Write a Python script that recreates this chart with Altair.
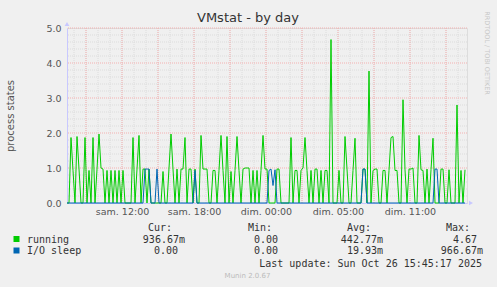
import altair as alt
import pandas as pd

# ---- data (one sample every 10 minutes, 200 samples) ----
running = [
    0, 0, 1.87, 0.93, 0, 1.9, 0.97, 0, 0, 1.87,
    0, 0.93, 0, 1.87, 0, 0.97, 1.97, 1.0, 0.97, 0,
    0.93, 0, 0.93, 0, 0.93, 0, 0.93, 0, 0.93, 0,
    0, 0, 0, 1.87, 0, 0.97, 1.93, 0, 0.97, 0.97,
    0, 0.97, 0, 0, 0, 0, 0, 0, 0.9, 0,
    0, 1.0, 1.97, 0.97, 0, 0.97, 0, 0.97, 0.97, 1.87,
    0, 0.97, 0.97, 0, 0.97, 0, 0, 1.93, 0.97, 0.97,
    0.97, 0, 0, 0.93, 0.93, 0, 0.93, 1.93, 0.93, 0,
    1.9, 0, 0.9, 0, 0.93, 1.9, 0.93, 0, 0.97, 1.0,
    1.0, 1.0, 0, 0.93, 0, 0.93, 0, 0.93, 1.93, 0.97,
    0.97, 0, 0, 0, 0, 0.97, 0.97, 0, 0, 0,
    0, 0, 1.87, 0, 0.93, 0.93, 0, 0.93, 1.0, 1.87,
    0.93, 0, 0.93, 0, 0.97, 0.97, 0, 0.93, 0, 0.93,
    0.93, 0, 4.67, 0, 0, 0, 0.93, 0, 0, 1.9,
    0.97, 0, 0, 0.93, 1.85, 0, 0, 0, 0.97, 0.97,
    0, 3.77, 0, 0.93, 0.97, 0.97, 0, 0, 0.93, 0.93,
    0, 0.93, 1.87, 1.9, 0.93, 0.93, 0, 0, 2.95, 0.95,
    0, 0.97, 0.97, 1.0, 0, 0, 1.93, 0.95, 0.93, 0,
    0.97, 0, 0.95, 1.85, 0, 0, 0, 0.97, 0.97, 0,
    0, 0.95, 0, 0, 0, 2.8, 0, 0.93, 0, 0.95,
]
io_sleep = [
    0, 0, 0, 0, 0, 0, 0, 0, 0, 0,
    0, 0, 0, 0, 0, 0, 0, 0, 0, 0,
    0, 0, 0, 0, 0, 0, 0, 0, 0, 0,
    0, 0, 0, 0, 0, 0, 0, 0, 0, 0.97,
    0.97, 0.97, 0, 0, 0, 0.97, 0, 0, 0, 0,
    0, 0, 0, 0, 0, 0, 0, 0, 0, 0,
    0, 0, 0, 0, 0.93, 0, 0, 0, 0, 0,
    0, 0, 0, 0, 0, 0, 0, 0, 0, 0,
    0, 0, 0, 0, 0, 0, 0, 0, 0, 0,
    0, 0, 0, 0, 0, 0, 0, 0, 0, 0,
    0, 0.93, 0.97, 0.5, 0.95, 0, 0, 0, 0, 0,
    0, 0, 0, 0, 0, 0, 0, 0, 0, 0,
    0, 0, 0, 0, 0, 0, 0, 0, 0, 0,
    0, 0, 0, 0, 0, 0, 0, 0, 0, 0,
    0, 0, 0, 0, 0, 0, 0, 0, 0.97, 0.97,
    0, 0, 0, 0, 0, 0, 0, 0, 0, 0,
    0, 0, 0, 0, 0, 0, 0, 0, 0, 0,
    0, 0, 0, 0, 0, 0, 0, 0, 0, 0,
    0, 0, 0, 0, 0.97, 0.97, 0, 0, 0, 0,
    0, 0, 0, 0, 0, 0, 0, 0, 0, 0,
]
minutes = [10 * j for j in range(len(running))]   # minutes from window start

tick_minutes = [275, 635, 995, 1355, 1715]
tick_labels = ["sam. 12:00", "sam. 18:00", "dim. 00:00", "dim. 05:00", "dim. 11:00"]
y_ticks = [0, 1, 2, 3, 4, 5]
minor_x = list(range(35, 2000, 60))
major_x = list(range(95, 2000, 180))
minor_y = [k / 5 for k in range(1, 25) if k % 5]
major_y = [1, 2, 3, 4, 5]

series_names = ["running", "I/O sleep"]
series_colors = ["#00CC00", "#0066B3"]
cur_vals = ["936.67m", "0.00"]
min_vals = ["0.00", "0.00"]
avg_vals = ["442.77m", "19.93m"]
max_vals = ["4.67", "966.67m"]

# ---- chart ----
xscale = alt.Scale(domain=[0, 2000], nice=False, zero=False)
yscale = alt.Scale(domain=[0, 5], nice=False, zero=True)

df_run = pd.DataFrame({"m": minutes, "v": running})
df_io = pd.DataFrame({"m": minutes, "v": io_sleep})

lbl_expr = "{" + ",".join(f"'{m}':'{l}'" for m, l in zip(tick_minutes, tick_labels)) + "}[''+datum.value]"

x_axis = alt.Axis(values=tick_minutes, labelExpr=lbl_expr, ticks=False, grid=False,
                  domainColor="#c8c8ff", labelFontSize=9.5, labelColor="#555555",
                  labelPadding=3, title=None, labelFont="DejaVu Sans")
y_axis = alt.Axis(values=y_ticks, format=".1f", ticks=False, grid=False,
                  domainColor="#c8c8ff", labelFontSize=9.5, labelColor="#555555",
                  labelPadding=6, title=None, labelFont="DejaVu Sans")

X = alt.X("m:Q", scale=xscale, axis=x_axis)
Y = alt.Y("v:Q", scale=yscale, axis=y_axis)

GRID_MINOR = "#dcdcdc"
GRID_MAJOR = "#f4b0b0"

minor_x_rules = alt.Chart(pd.DataFrame({"m": minor_x})).mark_rule(
    color=GRID_MINOR, strokeDash=[1, 1], strokeWidth=1).encode(x=X)
major_x_rules = alt.Chart(pd.DataFrame({"m": major_x})).mark_rule(
    color=GRID_MAJOR, strokeDash=[1, 1], strokeWidth=1).encode(x=X)
minor_y_rules = alt.Chart(pd.DataFrame({"v": minor_y})).mark_rule(
    color=GRID_MINOR, strokeDash=[1, 1], strokeWidth=1).encode(y=Y)
major_y_rules = alt.Chart(pd.DataFrame({"v": major_y})).mark_rule(
    color=GRID_MAJOR, strokeDash=[1, 1], strokeWidth=1).encode(y=Y)

line_run = alt.Chart(df_run).mark_line(color=series_colors[0], strokeWidth=1).encode(x=X, y=Y)
line_io = alt.Chart(df_io).mark_line(color=series_colors[1], strokeWidth=1).encode(x=X, y=Y)

dummy = pd.DataFrame({"d": [0]})


def label(txt, x, y, align="left", size=10.0, color="#333333", font="DejaVu Sans Mono", angle=0):
    return alt.Chart(dummy).mark_text(
        text=txt, align=align, baseline="middle", fontSize=size, color=color, font=font, angle=angle
    ).encode(x=alt.value(x), y=alt.value(y))


def square(color, x, y):
    return alt.Chart(dummy).mark_square(size=36, color=color, opacity=1).encode(
        x=alt.value(x), y=alt.value(y))


# plot origin is at (67, 28) in page pixels; decorations are placed relative to it
deco = [
    label("VMstat - by day", 181, -10, align="center", size=13, color="#333333", font="DejaVu Sans"),
    label("process states", -56, 88, align="center", size=10, color="#555555", font="DejaVu Sans", angle=270),
    label("RRDTOOL / TOBI OETIKER", 420, 25, align="center", size=6.5, color="#c8c8c8", font="DejaVu Sans", angle=90),
    alt.Chart(dummy).mark_point(shape="triangle-up", filled=True, size=22, color="#c8c8ff", opacity=1).encode(
        x=alt.value(0), y=alt.value(-4)),
    alt.Chart(dummy).mark_point(shape="triangle-right", filled=True, size=22, color="#c8c8ff", opacity=1).encode(
        x=alt.value(404), y=alt.value(175)),
    label("Cur:", 105, 200, align="right"),
    label("Min:", 205, 200, align="right"),
    label("Avg:", 304, 200, align="right"),
    label("Max:", 403, 200, align="right"),
    square(series_colors[0], -50.5, 211),
    square(series_colors[1], -50.5, 222.5),
    label(series_names[0], -40, 212),
    label(series_names[1], -40, 223),
    label(cur_vals[0], 118, 212, align="right"),
    label(cur_vals[1], 111, 223, align="right"),
    label(min_vals[0], 211, 212, align="right"),
    label(min_vals[1], 211, 223, align="right"),
    label(avg_vals[0], 316, 212, align="right"),
    label(avg_vals[1], 316, 223, align="right"),
    label(max_vals[0], 410, 212, align="right"),
    label(max_vals[1], 416, 223, align="right"),
    label("Last update: Sun Oct 26 15:45:17 2025", 415, 236, align="right"),
    label("Munin 2.0.67", 180.5, 248, align="center", size=7, color="#bbbbbb", font="DejaVu Sans"),
]

chart = alt.layer(
    minor_x_rules, minor_y_rules, major_x_rules, major_y_rules, line_run, line_io, *deco
).properties(
    width=400, height=175,
    padding={"left": 67, "top": 28, "right": 30, "bottom": 84},
    autosize=alt.AutoSizeParams(type="none"),
    background="#f0f0f0",
).configure_view(
    fill="white", stroke="transparent"
).configure(font="DejaVu Sans")

chart.save("out.html", embed_options={"renderer": "svg", "actions": False})
